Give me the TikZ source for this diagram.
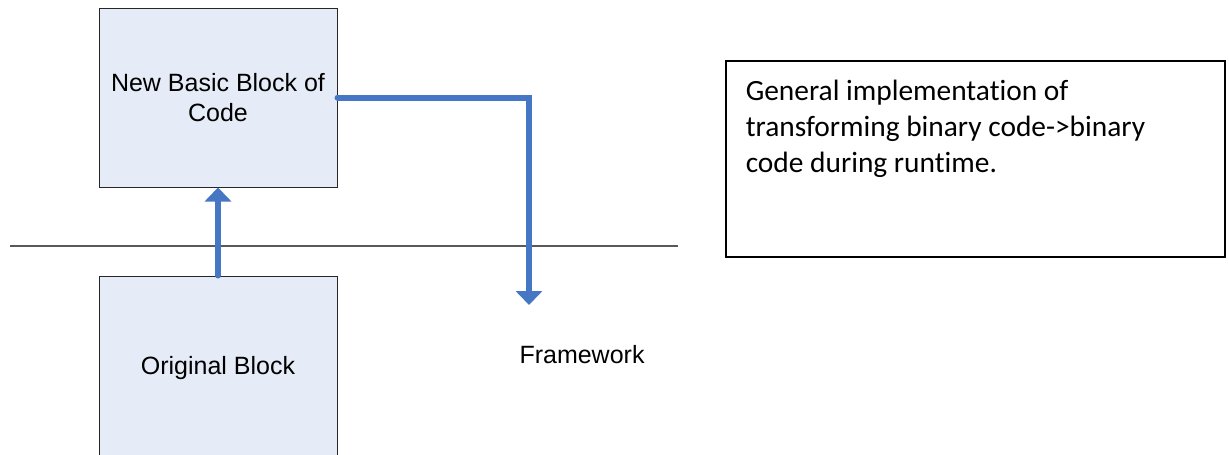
\documentclass[tikz,border=0pt]{standalone}
\usepackage{fontspec}
\setmainfont{Liberation Sans}
\newfontfamily\calib[Ligatures={NoCommon}]{Carlito}
\usetikzlibrary{arrows.meta}
\definecolor{arrowblue}{HTML}{4677C4}
\definecolor{boxfill}{HTML}{E6ECF7}
\begin{document}
\begin{tikzpicture}[x=1pt,y=-1pt,
  block/.style={draw=black!85, line width=1pt, fill=boxfill, minimum width=238pt,
    inner sep=0pt, align=center, font=\fontsize{25}{30}\selectfont},
  flow/.style={draw=arrowblue, line width=6pt, line cap=round,
    -{Triangle[width=26pt,length=14pt]}},
  sepline/.style={draw=black!65, line width=1.2pt},
  plain/.style={font=\fontsize{25}{30}\selectfont, inner sep=0pt},
  notebox/.style={draw=black, line width=1.5pt, anchor=north west, inner xsep=20pt,
    inner ysep=19pt, minimum width=499pt, font=\calib\fontsize{29.4}{36}\selectfont}
]
\useasboundingbox (0,0) rectangle (1229,455);
\coordinate (sepL) at (10,246);
\coordinate (sepR) at (678,246);
\draw[sepline] (sepL) -- (sepR);
\node[block, minimum height=179pt] (new) at (218,97.5) {New Basic Block of\\Code};
\node[block, minimum height=184pt] (orig) at (218,368) {Original Block};
\node[plain] (fw) at (582,355) {Framework};
\coordinate (fwtip) at (529,305);
\draw[flow] (orig.north) -- (new.south);
\draw[flow] (new.east) -| (fwtip);
\node[notebox] (note) at (725,60) {\begin{minipage}[t][158pt][t]{459pt}\raggedright
General implementation of\\
transforming binary code->binary\\
code during runtime.\end{minipage}};
\end{tikzpicture}
\end{document}
